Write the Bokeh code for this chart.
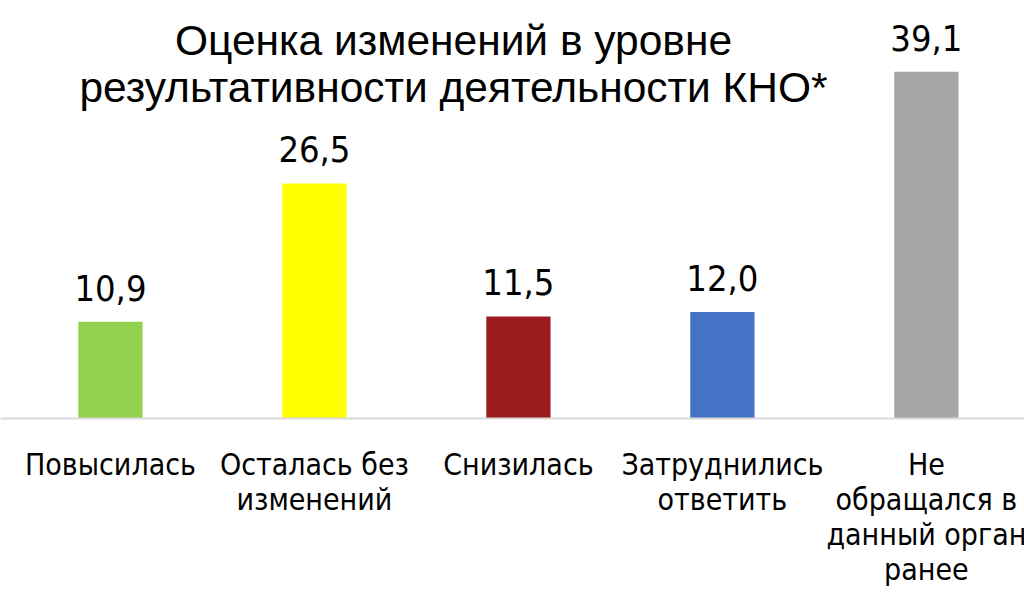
from bokeh.plotting import figure
from bokeh.models import Range1d, ColumnDataSource, Label, Span
from bokeh.core.properties import value
from bokeh.embed import file_html
from bokeh.resources import INLINE

title_lines = ["Оценка изменений в уровне", "результативности деятельности КНО*"]
categories = ["Повысилась", "Осталась без\nизменений", "Снизилась",
              "Затруднились\nответить", "Не\nобращался в\nданный орган\nранее"]
values = [10.9, 26.5, 11.5, 12.0, 39.1]
labels = ["10,9", "26,5", "11,5", "12,0", "39,1"]
colors = ["#92D050", "#FFFF00", "#9B1B1F", "#4472C4", "#A5A5A5"]

W, H = 1024, 595
p = figure(width=W, height=H, output_backend="svg", toolbar_location=None,
           x_range=Range1d(-0.539, 4.481), y_range=Range1d(-19.95, 47.12),
           min_border=0, min_border_left=0, min_border_right=0,
           min_border_top=0, min_border_bottom=0)
p.axis.visible = False
p.grid.visible = False
p.outline_line_color = None
p.background_fill_color = "white"
p.border_fill_color = "white"

xs = list(range(len(categories)))
src = ColumnDataSource(dict(x=xs, top=values, lab=labels, cat=categories, color=colors))

p.vbar(x="x", top="top", bottom=0, width=0.315, fill_color="color", line_color=None, source=src)
p.add_layout(Span(location=0, dimension="width", line_color="#D9D9D9", line_width=2))

p.text(x="x", y="top", text="lab", source=src, text_align="center", text_baseline="alphabetic",
       y_offset=-34, text_font=value("DejaVu Sans Condensed"), text_font_size="36px",
       text_color="black")

p.text(x="x", y=-3.2, text="cat", source=src, text_align="center", text_baseline="top",
       text_font=value("DejaVu Sans Condensed"), text_font_size="30px", text_color="black",
       text_line_height=1.0)

for i, t in enumerate(title_lines):
    p.add_layout(Label(x=453, y=H - 40 - 47 * i, x_units="screen", y_units="screen", text=t,
                       text_align="center", text_baseline="alphabetic",
                       text_font="Liberation Sans", text_font_size="42.5px", text_color="black"))

open("out.html", "w").write(file_html(p, INLINE))
